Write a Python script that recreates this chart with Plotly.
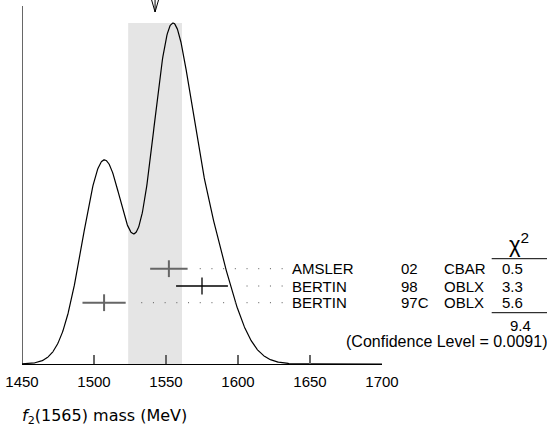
import numpy as np
import plotly.graph_objects as go

# ---- data ----
authors = ["AMSLER", "BERTIN", "BERTIN"]
years = ["02", "98", "97C"]
techs = ["CBAR", "OBLX", "OBLX"]
masses = [1552, 1575, 1507]
errors = [13, 18, 15]
chi2_txt = ["0.5", "3.3", "5.6"]
chi2_total = "9.4"
cl_txt = "(Confidence Level = 0.0091)"
tick_vals = [1450, 1500, 1550, 1600, 1650, 1700]

# ---- geometry (pixels) ----
W, H = 547, 428
L, R, T, B = 22, 165, 0, 64
PW = W - L - R          # 360
PH = H - T - B          # 364

def py(p):   # pixel y -> paper/data y
    return (PH - p) / PH

def px(p):   # pixel x -> paper x
    return (p - L) / PW

m = np.array(masses, float)
e = np.array(errors, float)
w = 1 / e**2
mean = np.sum(w * m) / np.sum(w)
chi2 = np.sum(((m - mean) / e) ** 2)
err = np.sqrt(1 / np.sum(w)) * np.sqrt(chi2 / (len(m) - 1))

# ideogram: sum of gaussians, area proportional to 1/error
xs = np.linspace(1450, 1700, 801)
ys = np.zeros_like(xs)
for mi, ei in zip(m, e):
    ys += (1 / ei**2) * np.exp(-0.5 * ((xs - mi) / ei) ** 2)
top = py(23)
ys = ys / ys.max() * top

fig = go.Figure()
fig.add_trace(go.Scatter(x=xs, y=ys, mode="lines",
                         line=dict(color="black", width=1.2),
                         hoverinfo="skip", showlegend=False))

row_y = [py(268.7), py(286), py(302.7)]
row_col = ["#666666", "black", "#666666"]
row_w = [2, 1.3, 2]
label_end = 1631
for i in range(len(masses)):
    fig.add_trace(go.Scatter(
        x=[label_end, masses[i] + errors[i] + 6], y=[row_y[i], row_y[i]],
        mode="lines", line=dict(color="#555555", width=1, dash="1px,10.7px"),
        hoverinfo="skip", showlegend=False))
    fig.add_trace(go.Scatter(
        x=[masses[i]], y=[row_y[i]], mode="markers",
        marker=dict(symbol="line-ns-open", size=12, color=row_col[i],
                    line=dict(color=row_col[i], width=row_w[i])),
        error_x=dict(type="data", array=[errors[i]], color=row_col[i],
                     thickness=row_w[i], width=0),
        hoverinfo="skip", showlegend=False))

shapes = []
# shaded band
shapes.append(dict(type="rect", xref="x", yref="y", x0=mean - err, x1=mean + err,
                   y0=0, y1=top, fillcolor="#e5e5e5", line=dict(width=0), layer="below"))
# left axis
shapes.append(dict(type="line", xref="x", yref="y", x0=1450, x1=1450, y0=0, y1=py(6),
                   line=dict(color="black", width=1.2)))
# arrow at mean
a = 2.4
shapes.append(dict(type="path", xref="x", yref="y",
                   path=f"M {mean-a} {py(0)} L {mean} {py(12)} L {mean+a} {py(0)} M {mean} {py(0)} L {mean} {py(12)}",
                   line=dict(color="black", width=1)))
# chi2 lines
for yy in (258.7, 312.7):
    shapes.append(dict(type="line", xref="paper", yref="paper", x0=px(491.7), x1=px(547),
                       y0=py(yy), y1=py(yy), line=dict(color="black", width=1)))

font = dict(family="Liberation Sans, Arial, sans-serif", size=15, color="black")
ann = []
for i in range(len(masses)):
    ann.append(dict(x=px(289.5), y=row_y[i], text=authors[i], xanchor="left"))
    ann.append(dict(x=px(398.5), y=row_y[i], text=years[i], xanchor="left"))
    ann.append(dict(x=px(442), y=row_y[i], text=techs[i], xanchor="left"))
    ann.append(dict(x=px(512.3), y=row_y[i], text=chi2_txt[i], xanchor="center"))
ann.append(dict(x=px(520.3), y=py(325), text=chi2_total, xanchor="center"))
ann.append(dict(x=px(548.5), y=py(341), text=cl_txt, xanchor="right",
                font=dict(family="Liberation Sans, Arial, sans-serif", size=16, color="black")))
ann.append(dict(x=px(519), y=py(259), text="χ<sup>2</sup>", xanchor="center",
                yanchor="bottom", font=dict(family="Liberation Sans, Arial", size=22, color="black")))
ann.append(dict(x=px(20), y=py(416.5), text="<i>f</i><sub>2</sub>(1565) mass (MeV)",
                xanchor="left", font=dict(family="DejaVu Sans, sans-serif", size=16, color="black")))
annotations = []
for d in ann:
    d.setdefault("yanchor", "middle")
    d.setdefault("font", font)
    d.update(xref="paper", yref="paper", showarrow=False)
    annotations.append(d)

fig.update_layout(
    width=W, height=H, margin=dict(l=L, r=R, t=T, b=B),
    paper_bgcolor="white", plot_bgcolor="white",
    xaxis=dict(range=[1450, 1700], showgrid=False, zeroline=False,
               showline=True, linecolor="black", linewidth=1,
               ticks="inside", ticklen=9, tickcolor="#666666", tickwidth=1.5,
               tickvals=tick_vals, ticktext=[str(v) for v in tick_vals],
               tickfont=font, ticklabelstandoff=4),
    yaxis=dict(range=[0, 1], visible=False, showgrid=False, zeroline=False),
    shapes=shapes, annotations=annotations, showlegend=False,
)
fig.write_html("out.html", config={"displayModeBar": False},
               post_script="document.body.style.margin='0';")
